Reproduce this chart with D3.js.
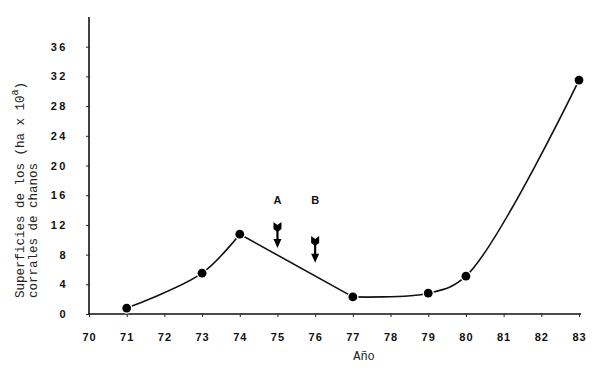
<!DOCTYPE html>
<html><head><meta charset="utf-8">
<script src="https://cdn.jsdelivr.net/npm/d3@7"></script>
<style>body{margin:0;background:#fff}svg{display:block}</style>
</head><body>
<svg id="c" width="600" height="371"></svg>
<script>
const years = [71, 73, 74, 77, 79, 80, 83];
const values = [0.8, 5.5, 10.75, 2.3, 2.8, 5.1, 31.5];
const xTicks = [70,71,72,73,74,75,76,77,78,79,80,81,82,83];
const yTicks = [0,4,8,12,16,20,24,28,32,36];
const arrowYears = [75, 76];
const arrowLabels = ["A", "B"];
const arrowTops = [12.4, 10.5];
const arrowTips = [8.9, 6.9];
const arrowLabelY = [15.3, 15.4];

const svg = d3.select("#c");
const x = d3.scaleLinear().domain([70, 83]).range([89, 579]);
const y = d3.scaleLinear().domain([0, 40]).range([314, 17]);

// axes
svg.append("line").attr("x1", x(70)-1).attr("x2", 581).attr("y1", y(0)).attr("y2", y(0)).attr("stroke","#111").attr("stroke-width",1.6);
svg.append("line").attr("x1", x(70)).attr("x2", x(70)).attr("y1", y(0)).attr("y2", y(40)).attr("stroke","#111").attr("stroke-width",1.6);

const xa = svg.append("g").attr("transform",`translate(0,${y(0)})`)
  .call(d3.axisBottom(x).tickValues(xTicks).tickFormat(d=>d).tickSize(3).tickPadding(16));
xa.select(".domain").remove();
xa.selectAll("line").attr("stroke","#222");
xa.selectAll("text").attr("font-family","Liberation Sans, Arial, sans-serif").attr("font-weight","bold").attr("font-size",11).attr("fill","#111").attr("letter-spacing",1);

const ya = svg.append("g").attr("transform",`translate(${x(70)},0)`)
  .call(d3.axisLeft(y).tickValues(yTicks).tickFormat(d=>d).tickSize(3).tickPadding(18));
ya.select(".domain").remove();
ya.selectAll("line").attr("stroke","#222");
ya.selectAll("text").attr("font-family","Liberation Sans, Arial, sans-serif").attr("font-weight","bold").attr("font-size",11).attr("fill","#111").attr("letter-spacing",2.5);

// curve
const pts = years.map((yr,i)=>[x(yr), y(values[i])]);
const st = p => p.attr("fill","none").attr("stroke","#111").attr("stroke-width",1.6);
svg.append("path").attr("d", d3.line().curve(d3.curveCatmullRom.alpha(0.5))(pts.slice(0,3))).call(st);
svg.append("path").attr("d", d3.line()(pts.slice(2,4))).call(st);
svg.append("path").attr("d", d3.line().curve(d3.curveCatmullRom.alpha(0.5))(pts.slice(3))).call(st);

svg.selectAll("circle.pt").data(pts).join("circle").attr("class","pt")
  .attr("cx",d=>d[0]).attr("cy",d=>d[1]).attr("r",4.4).attr("fill","#000").attr("stroke","#fff").attr("stroke-width",2.5).attr("paint-order","stroke");

// arrows
arrowYears.forEach((yr,i)=>{
  const cx = x(yr), t = y(arrowTops[i]), b = y(arrowTips[i]);
  const g = svg.append("g");
  g.append("path").attr("d",`M${cx-4},${t} L${cx},${t+3} L${cx+4},${t} L${cx+4},${t+7} L${cx},${t+10} L${cx-4},${t+7} Z`).attr("fill","#000");
  g.append("line").attr("x1",cx).attr("x2",cx).attr("y1",t+6).attr("y2",b-6).attr("stroke","#000").attr("stroke-width",2.2);
  g.append("path").attr("d",`M${cx-4},${b-9} L${cx+4},${b-9} L${cx},${b} Z`).attr("fill","#000");
  svg.append("text").attr("x",cx).attr("y",y(arrowLabelY[i])+4).attr("text-anchor","middle")
    .attr("font-family","Liberation Sans, Arial, sans-serif").attr("font-weight","bold").attr("font-size",11).attr("fill","#111").text(arrowLabels[i]);
});

// axis titles
svg.append("text").attr("x",364).attr("y",360).attr("text-anchor","middle")
  .attr("font-family","Liberation Mono, monospace").attr("font-size",12).attr("fill","#222").text("Año");

const t1 = svg.append("text").attr("transform","translate(24,298) rotate(-90)")
  .attr("font-family","Liberation Mono, monospace").attr("font-size",12.5).attr("fill","#222");
t1.append("tspan").text("Superficies de los  (ha x 10");
t1.append("tspan").attr("dy",-6).attr("font-size",10).text("a");
t1.append("tspan").attr("dy",6).text(")");
svg.append("text").attr("transform","translate(37,298) rotate(-90)")
  .attr("font-family","Liberation Mono, monospace").attr("font-size",12.5).attr("fill","#222")
  .text("corrales de chanos");
</script>
</body></html>
